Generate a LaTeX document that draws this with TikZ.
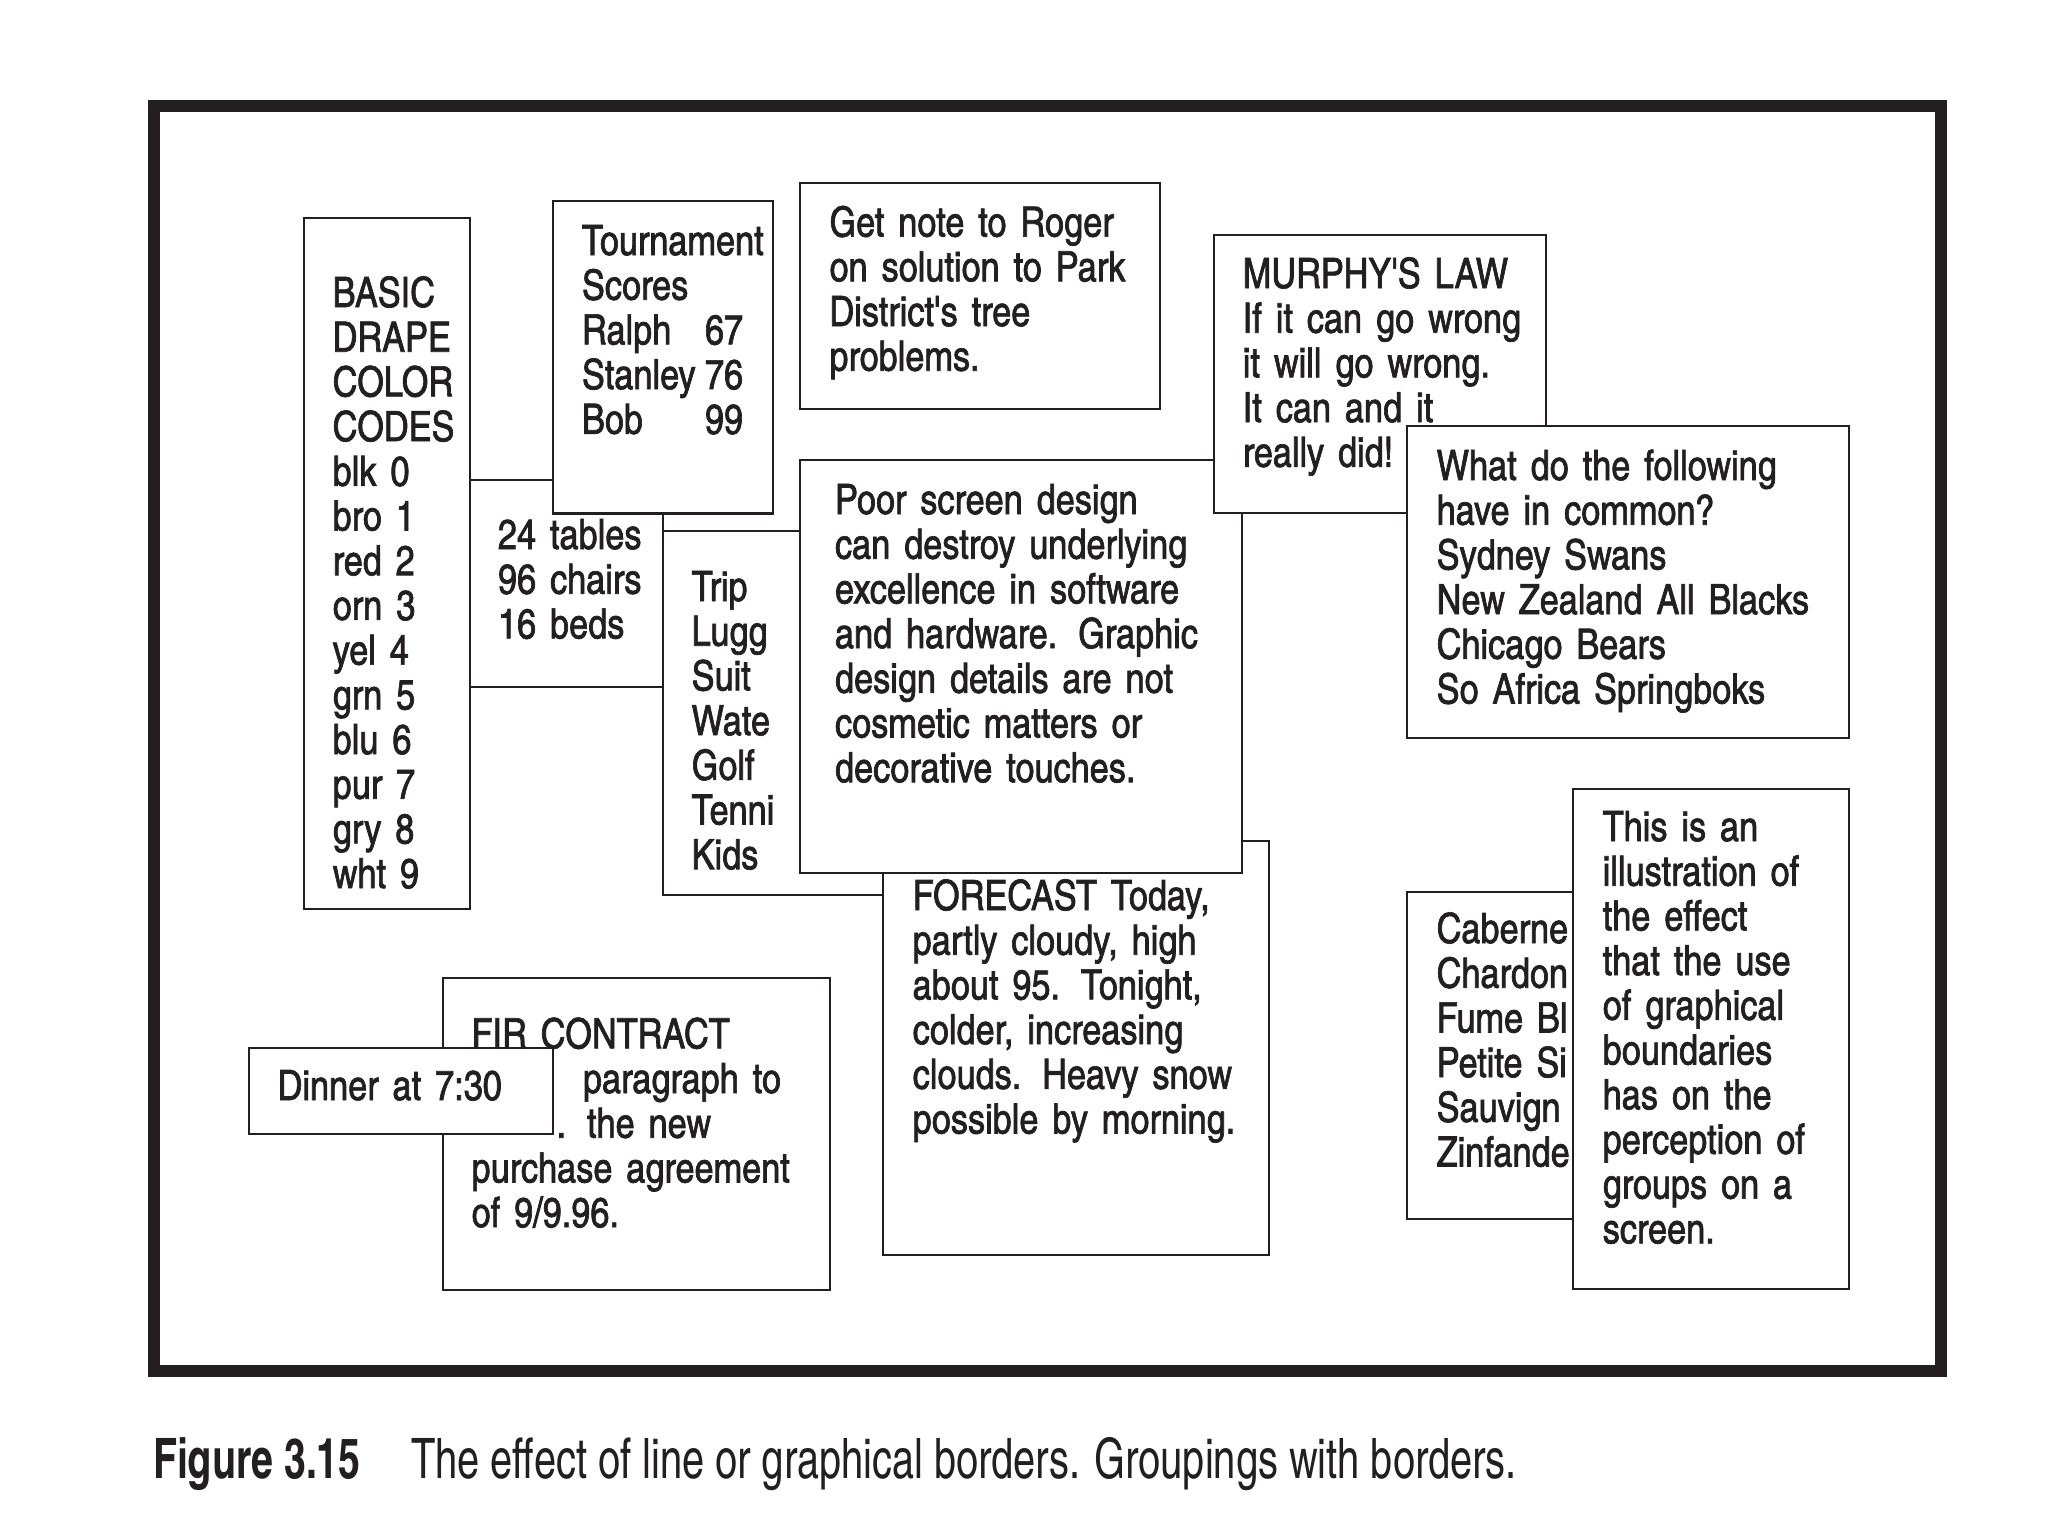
\documentclass[tikz,border=0pt]{standalone}
\usepackage{fontspec}
\newfontfamily\boxfont[FakeBold=1.6]{TeX Gyre Heros Cn}
\newfontfamily\capfont[FakeStretch=0.87]{TeX Gyre Heros Cn}
\newfontfamily\capboldfont[FakeStretch=0.86]{TeX Gyre Heros Cn Bold}
\definecolor{ink}{HTML}{231F20}
\newcommand\nmcol[1]{\makebox[61.5pt][l]{#1}}
\begin{document}
\begin{tikzpicture}[x=0.5pt,y=-0.5pt,
  box/.style={draw=ink, fill=white, line width=1.4pt, anchor=north west, inner sep=0pt, outer sep=0pt, rectangle},
  txt/.style={anchor=base west, inner sep=0pt, outer sep=0pt, text width=300pt, align=left,
    font=\boxfont\fontsize{20.9}{22.35}\selectfont, text=ink},
  captxt/.style={anchor=base west, inner sep=0pt, outer sep=0pt, text=ink}]
\useasboundingbox (0,0) rectangle (2048,1536);
% outer frame
\node[draw=ink, line width=6pt, anchor=north west, inner sep=0pt, outer sep=0pt, minimum width=893.5pt, minimum height=632.25pt] (frame) at (154,106.5) {};
% 24 tables
\node[box, minimum width=111.5pt, minimum height=103.5pt] (t24) at (440,480) {};
\node[txt] (t24t) at (498,549) {24 tables\\96 chairs\\16 beds};
% basic drape
\node[box, minimum width=83pt, minimum height=345.5pt] (basic) at (304,218) {};
\node[txt] (basict) at (332.7,307) {BASIC\\DRAPE\\COLOR\\CODES\\blk 0\\bro 1\\red 2\\orn 3\\yel 4\\grn 5\\blu 6\\pur 7\\gry 8\\wht 9};
% tournament
\node[box, minimum width=110pt, minimum height=156.25pt] (tourn) at (553,201) {};
\node[txt] (tournt) at (582,255) {Tournament\\Scores\\\nmcol{Ralph}67\\\nmcol{Stanley}76\\\nmcol{Bob}99};
% trip
\node[box, minimum width=118.5pt, minimum height=182pt] (trip) at (663,531) {};
\node[txt] (tript) at (691.7,601) {Trip\\Lugg\\Suit\\Wate\\Golf\\Tenni\\Kids};
% forecast
\node[box, minimum width=193pt, minimum height=207pt] (forecast) at (883,841) {};
\node[txt] (forecastt) at (912.7,910) {FORECAST Today,\\partly cloudy, high\\about 95. Tonight,\\colder, increasing\\clouds. Heavy snow\\possible by morning.};
% poor screen design
\node[box, minimum width=221pt, minimum height=206.5pt] (poor) at (800,460) {};
\node[txt] (poort) at (835,514) {Poor screen design\\can destroy underlying\\excellence in software\\and hardware. Graphic\\design details are not\\cosmetic matters or\\decorative touches.};
% get note
\node[box, minimum width=180pt, minimum height=113pt] (getnote) at (800,183) {};
\node[txt] (getnotet) at (829.5,236.6) {Get note to Roger\\on solution to Park\\District's tree\\problems.};
% murphy
\node[box, minimum width=166pt, minimum height=139pt] (murphy) at (1214,235) {};
\node[txt] (murphyt) at (1242.8,288) {MURPHY'S LAW\\If it can go wrong\\it will go wrong.\\It can and it\\really did!};
% what do the following
\node[box, minimum width=221pt, minimum height=156pt] (what) at (1407,426) {};
\node[txt] (whatt) at (1436.7,480) {What do the following\\have in common?\\Sydney Swans\\New Zealand All Blacks\\Chicago Bears\\So Africa Springboks};
% wines
\node[box, minimum width=100pt, minimum height=163.5pt] (caberne) at (1407,892) {};
\node[txt] (cabernet) at (1436.7,943) {Caberne\\Chardon\\Fume Bl\\Petite Si\\Sauvign\\Zinfande};
% this is an illustration
\node[box, minimum width=138pt, minimum height=250pt] (this) at (1573,789) {};
\node[txt] (thist) at (1602.7,841) {This is an\\illustration of\\the effect\\that the use\\of graphical\\boundaries\\has on the\\perception of\\groups on a\\screen.};
% fir contract
\node[box, minimum width=193.5pt, minimum height=156pt] (fir) at (443,978) {};
\node[txt] (firt) at (471.6,1048.3) {FIR CONTRACT\\\hspace*{55.7pt}paragraph to\\\hspace*{42.5pt}. the new\\purchase agreement\\of 9/9.96.};
% dinner
\node[box, minimum width=152pt, minimum height=43pt] (dinner) at (249,1048) {};
\node[txt] (dinnert) at (277.7,1100) {Dinner at 7:30};
% caption
\node[captxt, font=\capboldfont\fontsize{27.9}{30}\selectfont] (figno) at (153,1478) {Figure 3.15};
\node[captxt, font=\capfont\fontsize{27.9}{30}\selectfont] (captext) at (411,1478) {The effect of line or graphical borders. Groupings with borders.};
\end{tikzpicture}
\end{document}
